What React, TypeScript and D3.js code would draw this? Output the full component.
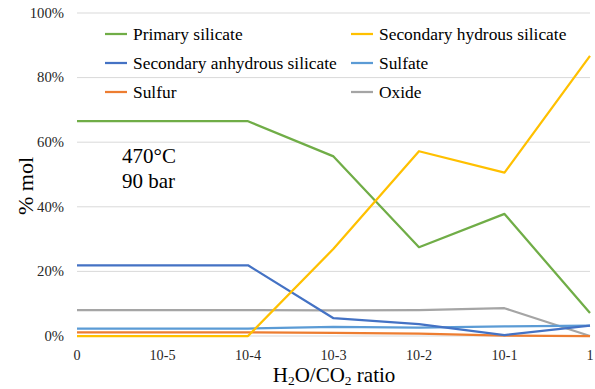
import React, { useEffect, useRef } from 'react';
import * as d3 from 'd3';

const categories = ['0', '10-5', '10-4', '10-3', '10-2', '10-1', '1'];
const yTicks = [0, 20, 40, 60, 80, 100];

const primarySilicate = [66.5, 66.5, 66.5, 55.6, 27.5, 37.8, 7.1];
const secondaryHydrous = [0, 0, 0, 27.0, 57.2, 50.6, 86.7];
const secondaryAnhydrous = [21.9, 21.9, 21.9, 5.5, 3.7, 0.3, 3.2];
const sulfate = [2.3, 2.3, 2.3, 2.8, 2.6, 3.0, 3.2];
const sulfur = [1.1, 1.1, 1.1, 1.0, 0.7, 0.1, 0.0];
const oxide = [8.0, 8.0, 8.0, 7.9, 8.0, 8.6, 0.0];

const seriesNames = [
  'Primary silicate',
  'Secondary hydrous silicate',
  'Secondary anhydrous silicate',
  'Sulfate',
  'Sulfur',
  'Oxide',
];
const seriesValues = [primarySilicate, secondaryHydrous, secondaryAnhydrous, sulfate, sulfur, oxide];
const seriesColors = ['#70AD47', '#FFC000', '#4472C4', '#5B9BD5', '#ED7D31', '#A5A5A5'];

const W = 595;
const H = 389;
const FONT = '"Liberation Serif", "Times New Roman", serif';

export default function App() {
  const ref = useRef<SVGSVGElement>(null);

  useEffect(() => {
    const svg = d3.select(ref.current);
    svg.selectAll('*').remove();

    const x = d3.scalePoint<string>().domain(categories).range([77, 590]);
    const y = d3.scaleLinear().domain([0, 100]).range([336, 13]);

    // gridlines
    svg
      .append('g')
      .selectAll('line')
      .data(yTicks)
      .join('line')
      .attr('x1', 77)
      .attr('x2', 590)
      .attr('y1', (d) => y(d))
      .attr('y2', (d) => y(d))
      .attr('stroke', '#D9D9D9')
      .attr('stroke-width', 1);

    // y tick labels
    svg
      .append('g')
      .selectAll('text')
      .data(yTicks)
      .join('text')
      .attr('x', 64)
      .attr('y', (d) => y(d))
      .attr('dy', '0.33em')
      .attr('text-anchor', 'end')
      .attr('font-family', FONT)
      .attr('font-size', 14.7)
      .attr('fill', '#262626')
      .text((d) => `${d}%`);

    // x tick labels
    svg
      .append('g')
      .selectAll('text')
      .data(categories)
      .join('text')
      .attr('x', (d) => x(d)!)
      .attr('y', 360)
      .attr('text-anchor', 'middle')
      .attr('font-family', FONT)
      .attr('font-size', 14.2)
      .attr('fill', '#262626')
      .text((d) => d);

    // lines
    const line = d3
      .line<number>()
      .x((_, i) => x(categories[i])!)
      .y((d) => y(d));

    const order = [5, 4, 3, 2, 0, 1];
    svg
      .append('g')
      .selectAll('path')
      .data(order)
      .join('path')
      .attr('d', (k) => line(seriesValues[k]))
      .attr('fill', 'none')
      .attr('stroke', (k) => seriesColors[k])
      .attr('stroke-width', 2.25)
      .attr('stroke-linejoin', 'round');

    // legend
    const legend = svg.append('g');
    seriesNames.forEach((name, i) => {
      const col = i % 2;
      const row = Math.floor(i / 2);
      const lx = col === 0 ? 105 : 351;
      const ly = 34 + row * 29;
      legend
        .append('line')
        .attr('x1', lx)
        .attr('x2', lx + 22)
        .attr('y1', ly)
        .attr('y2', ly)
        .attr('stroke', seriesColors[i])
        .attr('stroke-width', 2.25);
      legend
        .append('text')
        .attr('x', lx + 28)
        .attr('y', ly)
        .attr('dy', '0.33em')
        .attr('font-family', FONT)
        .attr('font-size', 17.4)
        .attr('fill', '#000')
        .text(name);
    });

    // annotation
    svg
      .append('text')
      .attr('x', 122)
      .attr('y', 163)
      .attr('font-family', FONT)
      .attr('font-size', 21)
      .text('470°C');
    svg
      .append('text')
      .attr('x', 122)
      .attr('y', 188)
      .attr('font-family', FONT)
      .attr('font-size', 21)
      .text('90 bar');

    // axis titles
    const xt = svg
      .append('text')
      .attr('x', 334)
      .attr('y', 382)
      .attr('text-anchor', 'middle')
      .attr('font-family', FONT)
      .attr('font-size', 21);
    xt.append('tspan').text('H');
    xt.append('tspan').attr('font-size', 13.5).attr('dy', 3).text('2');
    xt.append('tspan').attr('dy', -3).text('O/CO');
    xt.append('tspan').attr('font-size', 13.5).attr('dy', 3).text('2');
    xt.append('tspan').attr('dy', -3).text(' ratio');

    svg
      .append('text')
      .attr('transform', 'translate(33,186) rotate(-90)')
      .attr('text-anchor', 'middle')
      .attr('font-family', FONT)
      .attr('font-size', 22)
      .text('% mol');
  }, []);

  return (
    <svg
      ref={ref}
      width={W}
      height={H}
      style={{ position: 'absolute', left: 0, top: 0, background: '#fff' }}
    />
  );
}
